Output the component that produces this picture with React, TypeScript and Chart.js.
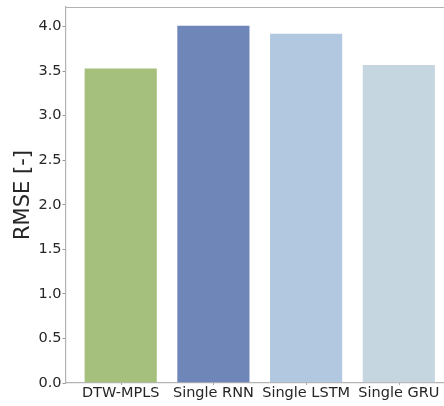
import React, { useEffect, useRef } from "react";
import { Chart, registerables } from "chart.js";

Chart.register(...registerables);

const categories = ["DTW-MPLS", "Single RNN", "Single LSTM", "Single GRU"];
const rmseValues = [3.54, 4.02, 3.93, 3.58];
const barColors = ["#a5c07c", "#6e86b8", "#b2c8e0", "#c5d6e1"];
const yTickValues = [0, 0.5, 1.0, 1.5, 2.0, 2.5, 3.0, 3.5, 4.0];

const FONT = "'DejaVu Sans', sans-serif";
const SPINE = "#b3b3b3";
const TEXT = "#262626";

const spines = {
  id: "spines",
  afterDraw(chart: any) {
    const { ctx, chartArea } = chart;
    const xs = chart.scales.x;
    ctx.save();
    // clean the strip right of the last bar (no right spine in view)
    const x0 = xs.getPixelForValue(3.45);
    ctx.fillStyle = "#ffffff";
    ctx.fillRect(x0, chartArea.top + 2, chartArea.right + 20 - x0, chartArea.bottom - chartArea.top - 3);
    ctx.strokeStyle = SPINE;
    ctx.lineWidth = 1.2;
    ctx.beginPath();
    ctx.moveTo(chartArea.left, chartArea.top + 0.5);
    ctx.lineTo(chartArea.right, chartArea.top + 0.5);
    ctx.stroke();
    ctx.strokeStyle = "#aaaaaa";
    ctx.lineWidth = 1;
    ctx.beginPath();
    categories.forEach((_, i) => {
      const px = Math.round(xs.getPixelForValue(i)) + 0.5;
      ctx.moveTo(px, chartArea.bottom);
      ctx.lineTo(px, chartArea.bottom + 2);
    });
    ctx.stroke();
    ctx.restore();
  },
};

export default function App() {
  const canvasRef = useRef<HTMLCanvasElement | null>(null);

  useEffect(() => {
    if (!canvasRef.current) return;
    const chart = new Chart(canvasRef.current, {
      type: "bar",
      data: {
        datasets: [
          {
            data: rmseValues.map((v, i) => ({ x: i, y: v })),
            backgroundColor: barColors,
            borderColor: "rgba(255,255,255,0.45)",
            borderWidth: 1,
            barPercentage: 0.8,
            categoryPercentage: 1.0,
          },
        ],
      },
      options: {
        animation: false,
        responsive: false,
        layout: { padding: { top: 7, right: 16.5, left: 0, bottom: 0 } },
        plugins: { legend: { display: false }, tooltip: { enabled: false } },
        scales: {
          x: {
            type: "linear",
            min: -0.59,
            max: 3.59,
            offset: false,
            afterFit: (s: any) => {
              s.height = 23;
              s.paddingLeft = 0;
              s.paddingRight = 0;
            },
            afterBuildTicks: (s: any) => {
              s.ticks = categories.map((_, i) => ({ value: i }));
            },
            grid: { display: false, offset: false, drawTicks: false },
            border: { display: true, color: SPINE, width: 1.2 },
            ticks: {
              autoSkip: false,
              maxRotation: 0,
              padding: 2,
              color: TEXT,
              font: { family: FONT, size: 14.5 },
              callback: (v: any) => categories[Math.round(Number(v))] ?? "",
            },
          },
          y: {
            type: "linear",
            min: 0,
            max: 4.22,
            afterFit: (s: any) => {
              s.width = 66;
              s.paddingTop = 0;
              s.paddingBottom = 0;
            },
            afterBuildTicks: (s: any) => {
              s.ticks = yTickValues.map((v) => ({ value: v }));
            },
            grid: {
              display: true,
              drawOnChartArea: false,
              drawTicks: true,
              tickLength: 3.5,
              color: "#999999",
            },
            border: { display: true, color: SPINE, width: 1.2 },
            ticks: {
              padding: 1,
              color: TEXT,
              font: { family: FONT, size: 14.5 },
              callback: (v: any) => Number(v).toFixed(1),
            },
            title: {
              display: true,
              text: "RMSE [-]",
              color: TEXT,
              font: { family: FONT, size: 21 },
              padding: { top: 11, bottom: 0 },
            },
          },
        },
      },
      plugins: [spines],
    });
    return () => chart.destroy();
  }, []);

  return (
    <div
      style={{
        position: "fixed",
        left: 0,
        top: 0,
        width: 444,
        height: 406,
        overflow: "hidden",
        background: "#ffffff",
      }}
    >
      <canvas
        ref={canvasRef}
        width={470}
        height={406}
        style={{ display: "block", width: 470, height: 406 }}
      />
    </div>
  );
}
